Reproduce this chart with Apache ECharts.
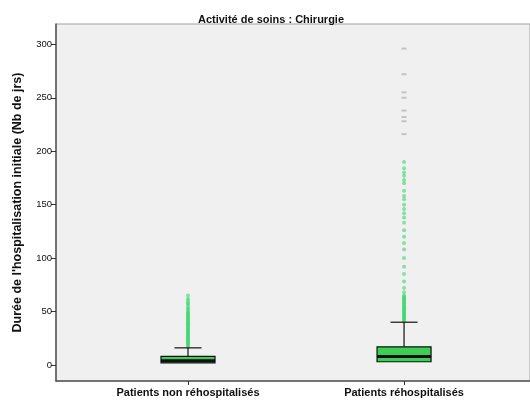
<!DOCTYPE html>
<html>
<head>
<meta charset="utf-8">
<script src="https://cdn.jsdelivr.net/npm/echarts@6/dist/echarts.min.js"></script>
<style>
  html, body { margin: 0; padding: 0; background: #ffffff; }
  #chart { width: 530px; height: 404px; }
</style>
</head>
<body>
<div id="chart"></div>
<script>
// Groups and their positions on the x scale
const categories = ['Patients non réhospitalisés', 'Patients réhospitalisés'];
const positions = [1, 2];

// Box statistics per group: [lower whisker, Q1, median, Q3, upper whisker] (days)
const boxStats = [
  [2, 2, 4, 8, 16],
  [3, 3, 8, 17, 40]
];

// Outliers (green points) per group
const outliersGroup1 = [17, 18, 19, 20, 21, 22, 23, 24, 25, 26, 27, 28, 29, 30, 31, 32, 33, 34, 35, 36,
  37, 38, 39, 40, 41, 42, 43, 44, 45, 46, 47, 48, 49, 50, 52, 53, 55, 57, 58, 60, 62, 65];
const outliersGroup2 = [41, 42, 43, 44, 45, 46, 47, 48, 49, 50, 51, 52, 53, 54, 55, 56, 57, 58, 59, 60,
  61, 62, 63, 64, 65, 68, 72, 78, 85, 92, 100, 108, 114, 120, 126, 133, 138, 142, 146, 150, 155,
  158, 163, 170, 173, 177, 180, 184, 190];

// Extreme values (grey marks), second group only
const extremesGroup2 = [216, 228, 232, 238, 250, 255, 272, 296];

// Y axis tick values
const yTicks = [0, 50, 100, 150, 200, 250, 300];

const boxData = boxStats.map((s, i) => [positions[i]].concat(s));
const outlierData = []
  .concat(outliersGroup1.map(v => [positions[0], v]))
  .concat(outliersGroup2.map(v => [positions[1], v]));
const extremeData = extremesGroup2.map(v => [positions[1], v]);

const BOX_GREEN = '#3dcf55';
const FONT = 'Liberation Sans, Arial, sans-serif';

function renderBox(params, api) {
  const x = api.value(0);
  const lo = api.coord([x, api.value(1)]);
  const q1 = api.coord([x, api.value(2)]);
  const med = api.coord([x, api.value(3)]);
  const q3 = api.coord([x, api.value(4)]);
  const hi = api.coord([x, api.value(5)]);
  const half = api.size([0.25, 0])[0] / 2;
  const capHalf = half / 2;
  const cx = q1[0];
  const stroke = { stroke: '#111', lineWidth: 1.2 };
  const children = [
    { type: 'line', shape: { x1: cx, y1: q3[1], x2: cx, y2: hi[1] }, style: stroke },
    { type: 'line', shape: { x1: cx - capHalf, y1: hi[1], x2: cx + capHalf, y2: hi[1] }, style: stroke }
  ];
  // Lower whisker only when it extends below the box
  if (api.value(1) < api.value(2)) {
    children.push(
      { type: 'line', shape: { x1: cx, y1: q1[1], x2: cx, y2: lo[1] }, style: stroke },
      { type: 'line', shape: { x1: cx - capHalf, y1: lo[1], x2: cx + capHalf, y2: lo[1] }, style: stroke }
    );
  }
  children.push(
    { type: 'rect', shape: { x: cx - half, y: q3[1], width: half * 2, height: q1[1] - q3[1] },
      style: { fill: BOX_GREEN, stroke: '#111', lineWidth: 1.2 } },
    { type: 'line', shape: { x1: cx - half, y1: med[1], x2: cx + half, y2: med[1] },
      style: { stroke: '#111', lineWidth: 3 } }
  );
  return { type: 'group', children: children };
}

const chart = echarts.init(document.getElementById('chart'), null, { renderer: 'canvas' });
chart.setOption({
  animation: false,
  backgroundColor: '#ffffff',
  textStyle: { fontFamily: FONT },
  title: {
    text: 'Activité de soins : Chirurgie',
    left: 266, top: 9, textAlign: 'center',
    textStyle: { fontSize: 11, fontWeight: 'bold', color: '#111', fontFamily: FONT }
  },
  grid: {
    left: 56, right: 0, top: 24, bottom: 23,
    show: true, backgroundColor: '#f0f0f0', borderColor: '#a0a0a0', borderWidth: 1
  },
  xAxis: {
    type: 'value', min: 0.389, max: 2.583,
    splitLine: { show: false },
    axisLine: { show: true, onZero: false, lineStyle: { color: '#555', width: 1.5 } },
    axisTick: { show: true, length: 4, lineStyle: { color: '#333' }, customValues: positions },
    axisLabel: {
      customValues: positions, margin: 6,
      fontSize: 11, fontWeight: 'bold', color: '#111',
      formatter: v => categories[positions.indexOf(Math.round(v))] || ''
    }
  },
  yAxis: {
    type: 'value', min: -15, max: 319,
    name: "Durée de l'hospitalisation initiale (Nb de jrs)",
    nameLocation: 'middle', nameGap: 32, nameRotate: 90,
    nameTextStyle: { fontSize: 12.5, fontWeight: 'bold', color: '#111' },
    splitLine: { show: false },
    axisLine: { show: true, onZero: false, lineStyle: { color: '#555', width: 1.5 } },
    axisTick: { show: true, length: 5, lineStyle: { color: '#333' }, customValues: yTicks },
    axisLabel: { customValues: yTicks, fontSize: 9.5, color: '#111', margin: 4 }
  },
  series: [
    {
      type: 'scatter',
      data: outlierData,
      symbol: 'circle', symbolSize: 4,
      itemStyle: { color: 'rgba(60, 215, 110, 0.75)' },
      z: 2
    },
    {
      type: 'scatter',
      data: extremeData,
      symbol: 'rect', symbolSize: [5, 2],
      itemStyle: { color: '#b8b8b8' },
      z: 2
    },
    {
      type: 'custom',
      renderItem: renderBox,
      data: boxData,
      encode: { x: 0, y: [1, 2, 3, 4, 5] },
      z: 3
    }
  ]
});
</script>
</body>
</html>
